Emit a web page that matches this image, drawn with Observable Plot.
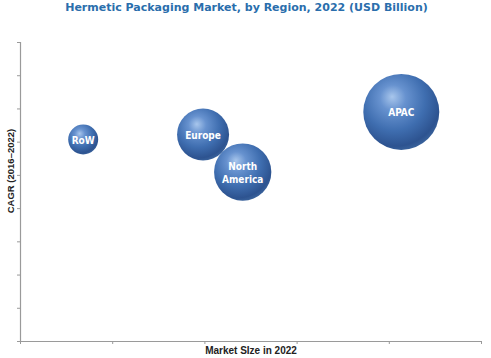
<!DOCTYPE html>
<html>
<head>
<meta charset="utf-8">
<script src="https://cdn.jsdelivr.net/npm/d3@7"></script>
<script src="https://cdn.jsdelivr.net/npm/@observablehq/plot@0.6"></script>
<style>
  html, body { margin: 0; padding: 0; background: #fff; }
  #title { height: 22px; width: 491px; text-align: center; font-family: "DejaVu Sans", sans-serif; font-weight: bold; font-size: 11px; color: #2a6eac; line-height: 16px; padding-left: 2px; box-sizing: border-box; }
</style>
</head>
<body>
<div id="title">Hermetic Packaging Market, by Region, 2022 (USD Billion)</div>
<div id="chart"></div>
<script>
const regions = ["RoW", "Europe", "North\nAmerica", "APAC"];
const marketSize = [0.68, 1.98, 2.41, 4.13];
const cagr = [6.08, 6.23, 5.1, 6.91];
const bubbleSize = [2.25, 6.76, 8.2, 14.44];
const xTicks = [0, 1, 2, 3, 4, 5];
const yTicks = [0, 1, 2, 3, 4, 5, 6, 7, 8, 9];

const data = regions.map((r, i) => ({region: r, x: marketSize[i], y: cagr[i], s: bubbleSize[i]}));

const axisColor = "#9a9a9a";
const chart = Plot.plot({
  width: 491,
  height: 336,
  marginTop: 20,
  marginBottom: 17,
  marginLeft: 20,
  marginRight: 10,
  x: {domain: [0, 5], axis: null},
  y: {domain: [0, 9], axis: null},
  r: {domain: [0, 14.44], range: [0, 38]},
  style: {fontFamily: "'Liberation Sans', sans-serif", background: "#fff"},
  marks: [
    Plot.axisX({ticks: xTicks, tickFormat: () => "", tickSize: 3, stroke: axisColor, label: null}),
    Plot.axisY({ticks: yTicks, tickFormat: () => "", tickSize: 3, stroke: axisColor, label: null}),
    Plot.ruleY([0], {stroke: axisColor, strokeWidth: 1.2}),
    Plot.ruleX([0], {stroke: axisColor, strokeWidth: 1.2}),
    Plot.dot(data, {x: "x", y: "y", r: "s", fill: "url(#sphere)", stroke: "none"}),
    Plot.text(data, {x: "x", y: "y", text: "region", fill: "white", fontWeight: "bold", fontSize: 10, lineHeight: 1.35, fontFamily: "'DejaVu Sans Condensed', 'DejaVu Sans', sans-serif"}),
    Plot.text(["Market SIze in 2022"], {frameAnchor: "bottom", dy: 12, x: 2.5, text: d => d, fill: "#222", fontSize: 10, fontWeight: "bold", fontFamily: "'Liberation Sans', sans-serif"}),
    Plot.text(["CAGR (2016–2022)"], {frameAnchor: "left", textAnchor: "middle", dx: -10, dy: -21, rotate: -90, text: d => d, fill: "#222", fontSize: 9.5, fontWeight: "bold", fontFamily: "'Liberation Sans', sans-serif"})
  ]
});

const ns = "http://www.w3.org/2000/svg";
const defs = document.createElementNS(ns, "defs");
defs.innerHTML = `
  <radialGradient id="sphere" cx="0.42" cy="0.36" r="0.68" fx="0.38" fy="0.3">
    <stop offset="0" stop-color="#a8c6ec"/>
    <stop offset="0.25" stop-color="#6792cf"/>
    <stop offset="0.6" stop-color="#3f6eb0"/>
    <stop offset="0.88" stop-color="#2d5390"/>
    <stop offset="1" stop-color="#3d679f"/>
  </radialGradient>`;
chart.insertBefore(defs, chart.firstChild);
document.getElementById("chart").appendChild(chart);
</script>
</body>
</html>
